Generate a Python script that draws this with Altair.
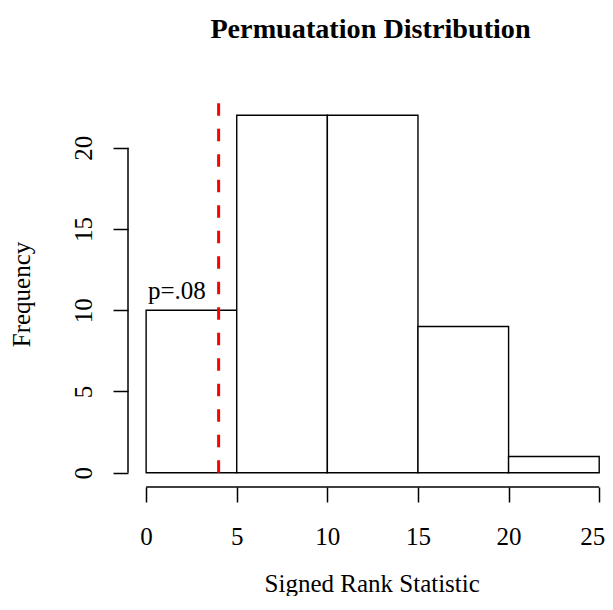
import altair as alt
import pandas as pd

# Histogram data
bin_start = [0, 5, 10, 15, 20]
bin_end = [5, 10, 15, 20, 25]
counts = [10, 22, 22, 9, 1]

# Observed statistic (red dashed line)
observed = [4]
line_top = [22.88]

# Annotation
ann_text = ["p=.08"]
ann_x = [1.7]
ann_y = [10.7]

x_ticks = [0, 5, 10, 15, 20, 25]
y_ticks = [0, 5, 10, 15, 20]

FONT = "Liberation Serif"
FS = 25
W, H = 477, 386

bars_df = pd.DataFrame({"start": bin_start, "end": bin_end, "count": counts})
obs_df = pd.DataFrame({"x": observed, "y0": [0], "y1": line_top})
ann_df = pd.DataFrame({"label": ann_text, "x": ann_x, "y": ann_y})
xaxis_df = pd.DataFrame({"a": [x_ticks[0]], "b": [x_ticks[-1]]})
yaxis_df = pd.DataFrame({"a": [y_ticks[0]], "b": [y_ticks[-1]]})

xscale = alt.Scale(domain=[-1, 25.32], nice=False, zero=False)
yscale = alt.Scale(domain=[-0.88, 22.88], nice=False, zero=False)

x_axis = alt.Axis(
    values=x_ticks, domain=False, grid=False, tickSize=15, tickWidth=1.5,
    tickColor="black", labelFont=FONT, labelFontSize=FS, labelColor="black",
    labelBaseline="alphabetic", labelAlign="center", labelPadding=42,
    labelFlush=False, labelOverlap=False,
    labelOffset={"expr": "datum.value == 25 ? -7 : 0"},
    title="Signed Rank Statistic", titleFont=FONT, titleFontSize=FS,
    titleFontWeight="normal", titleColor="black", titleBaseline="alphabetic",
    titleAlign="center", titleX=243.7, titleY=104,
)
y_axis = alt.Axis(
    values=y_ticks, domain=False, grid=False, tickSize=15, tickWidth=1.5,
    tickColor="black", labelFont=FONT, labelFontSize=FS, labelColor="black",
    labelAngle=270, labelBaseline="alphabetic", labelAlign="center",
    labelPadding=22, labelFlush=False, labelOverlap=False,
    title="Frequency", titleFont=FONT, titleFontSize=FS,
    titleFontWeight="normal", titleColor="black", titleAngle=270,
    titleBaseline="alphabetic", titleAlign="center", titleX=-99, titleY=193,
)

bars = alt.Chart(bars_df).mark_bar(
    fill="white", stroke="black", strokeWidth=1.4
).encode(
    x=alt.X("start:Q", scale=xscale, axis=x_axis),
    x2="end:Q",
    y=alt.Y("count:Q", scale=yscale, axis=y_axis),
    y2=alt.datum(0),
)

obs = alt.Chart(obs_df).mark_rule(
    color="#FF0000", strokeWidth=3, strokeDash=[12.5, 13]
).encode(
    x=alt.X("x:Q", scale=xscale),
    y=alt.Y("y0:Q", scale=yscale),
    y2="y1:Q",
)

ann = alt.Chart(ann_df).mark_text(
    font=FONT, fontSize=FS, color="black", align="center", baseline="alphabetic"
).encode(
    x=alt.X("x:Q", scale=xscale),
    y=alt.Y("y:Q", scale=yscale),
    text="label:N",
)

xline = alt.Chart(xaxis_df).mark_rule(color="black", strokeWidth=1.5).encode(
    x=alt.X("a:Q", scale=xscale), x2="b:Q", y=alt.value(H)
)
yline = alt.Chart(yaxis_df).mark_rule(color="black", strokeWidth=1.5).encode(
    y=alt.Y("a:Q", scale=yscale), y2="b:Q", x=alt.value(0)
)

chart = alt.layer(bars, obs, ann, xline, yline).properties(
    width=W, height=H,
    autosize=alt.AutoSizeParams(type="none"),
    padding={"left": 120, "top": 93, "right": 0, "bottom": 109},
    title=alt.TitleParams(
        text="Permuatation Distribution", font=FONT, fontSize=28.2,
        fontWeight="bold", color="black", anchor="middle", frame="group",
        baseline="alphabetic", offset=33, dx=4,
    ),
).configure_view(stroke=None)

chart.save("out.html", embed_options={"renderer": "svg", "actions": False})
